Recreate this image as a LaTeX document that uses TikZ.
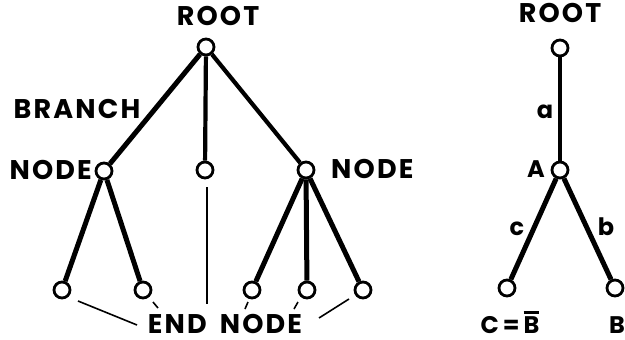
\documentclass[tikz,border=0pt]{standalone}
\usepackage{fontspec}
\setmainfont{Poppins}[LetterSpace=8]
\newcommand{\barB}{\vbox{\hrule height 2.6pt\kern 2.6pt\hbox{B}}}
\begin{document}
\begin{tikzpicture}[x=1pt,y=-1pt,
  vtx/.style={circle,draw,line width=2.8pt,minimum size=16pt,inner sep=0pt,fill=white},
  lbl/.style={font=\fontsize{27}{27}\selectfont\bfseries,inner sep=0pt,anchor=base,text depth=0pt},
  rlbl/.style={font=\fontsize{24}{24}\selectfont\bfseries,inner sep=0pt,anchor=base,text depth=0pt},
  br/.style={line width=5pt},
  brt/.style={line width=4.2pt},
  thinl/.style={line width=1.6pt}]
\useasboundingbox (0,0) rectangle (625,340);
% left tree
\node[vtx] (r) at (206,47) {};
\node[vtx] (n1) at (104,171) {};
\node[vtx] (n2) at (205,170) {};
\node[vtx] (n3) at (306,170) {};
\node[vtx] (l1) at (62,290) {};
\node[vtx] (l2) at (143,290) {};
\node[vtx] (l3) at (252,290) {};
\node[vtx] (l4) at (307,290) {};
\node[vtx] (l5) at (363,290) {};
\draw[br] (r) -- (n1);
\draw[brt] (r) -- (n2);
\draw[brt] (r) -- (n3);
\draw[br] (n1) -- (l1);
\draw[br] (n1) -- (l2);
\draw[br] (n3) -- (l3);
\draw[br] (n3) -- (l4);
\draw[br] (n3) -- (l5);
\node[lbl] (rootlbl) at (218,25) {ROOT};
\node[lbl,anchor=base east] (nodelblA) at (92,179) {NODE};
\node[lbl,anchor=base west] (nodelblB) at (331,178) {NODE};
\node[lbl] (branchlbl) at (77,118) {BRANCH};
\node[lbl] (endlbl) at (225,333) {END\hspace{13pt}NODE};
% thin pointer lines
\coordinate (t1a) at (78,301); \coordinate (t1b) at (137,325);
\coordinate (t2a) at (153,302); \coordinate (t2b) at (158,308);
\coordinate (t3a) at (207,187); \coordinate (t3b) at (207,304);
\coordinate (t4a) at (248,302); \coordinate (t4b) at (245,309);
\coordinate (t5a) at (298,302); \coordinate (t5b) at (294,309);
\coordinate (t6a) at (349,299); \coordinate (t6b) at (319,318);
\draw[thinl] (t1a) -- (t1b);
\draw[thinl] (t2a) -- (t2b);
\draw[thinl] (t3a) -- (t3b);
\draw[thinl] (t4a) -- (t4b);
\draw[thinl] (t5a) -- (t5b);
\draw[thinl] (t6a) -- (t6b);
% right tree
\node[vtx] (R) at (560,48) {};
\node[vtx] (A) at (560,170) {};
\node[vtx] (C) at (507,288) {};
\node[vtx] (B) at (615,288) {};
\draw[brt] (R) -- (A);
\draw[br] (A) -- (C);
\draw[br] (A) -- (B);
\node[lbl] (rootlbl2) at (560,23) {ROOT};
\node[rlbl] (alab) at (545,118) {a};
\node[rlbl] (Alab) at (536,177) {A};
\node[rlbl] (clab) at (517,235) {c};
\node[rlbl] (blab) at (606,235) {b};
\node[rlbl] (Clab) at (510,333) {C\,=\,\barB};
\node[rlbl] (Blab) at (617,333) {B};
\end{tikzpicture}
\end{document}
